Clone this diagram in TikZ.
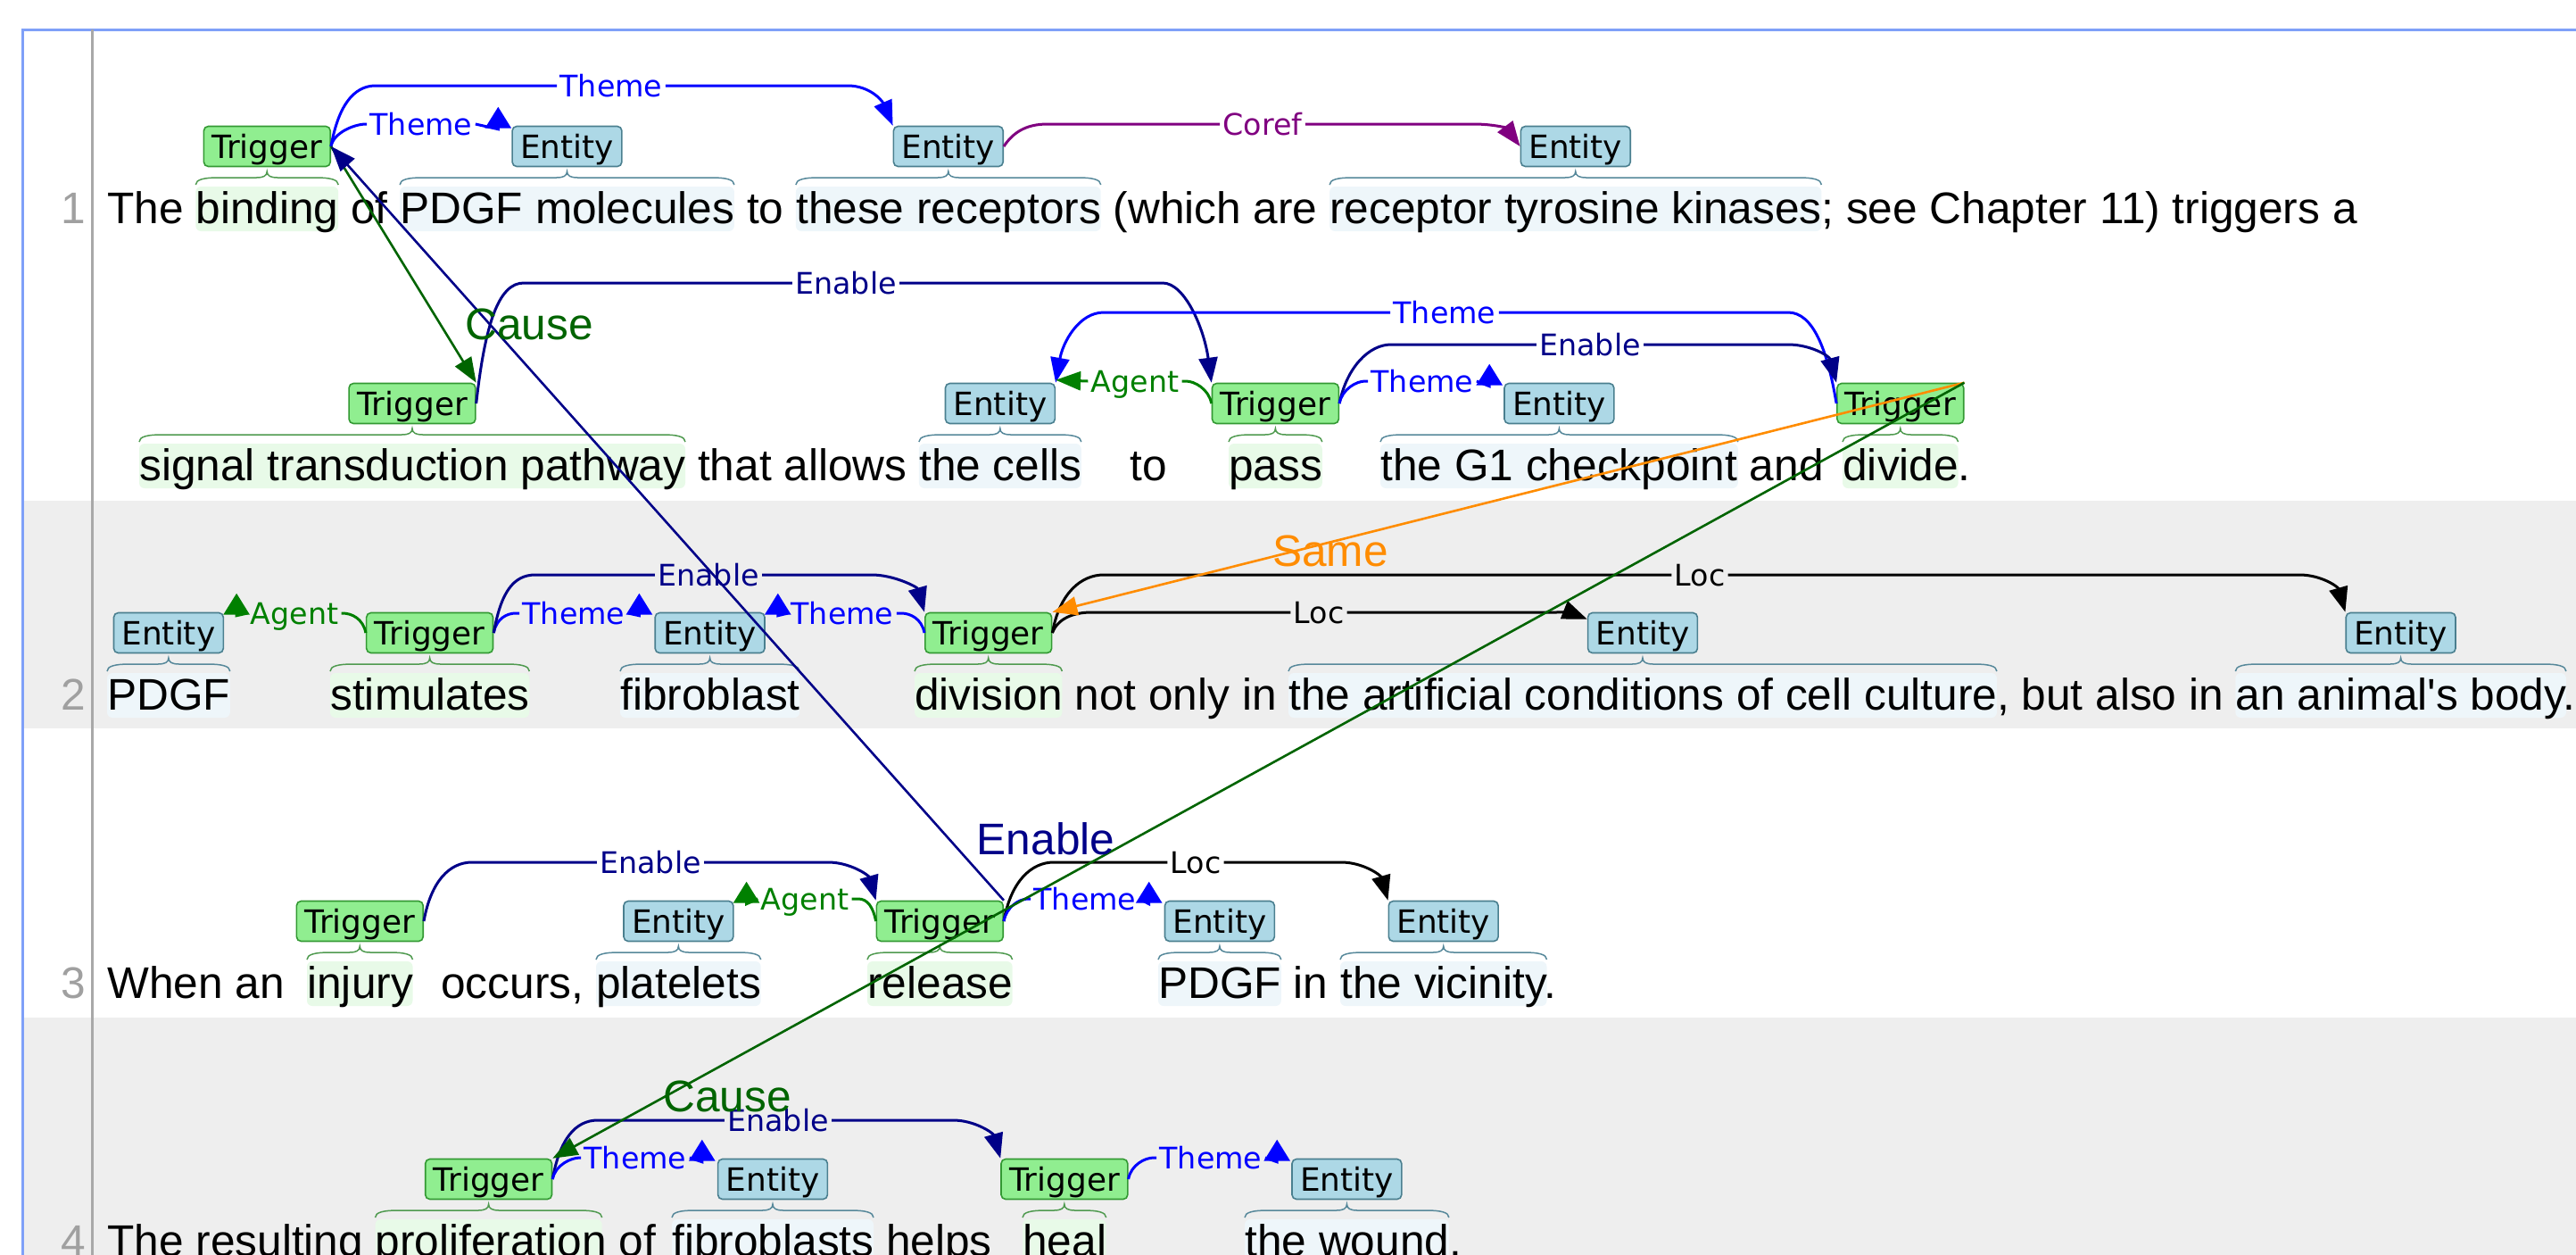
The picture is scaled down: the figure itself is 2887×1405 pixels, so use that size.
\documentclass[tikz,border=0pt]{standalone}
\usepackage{fontspec}
\setmainfont{Liberation Sans}[Ligatures=TeXOff]
\newfontfamily\dejavu{DejaVu Sans}
\usetikzlibrary{arrows.meta,calc}
\definecolor{bandc}{HTML}{EEEEEE}
\definecolor{framec}{HTML}{7FA0F8}
\definecolor{sepc}{HTML}{A8A8A8}
\definecolor{numc}{HTML}{A0A0A0}
\definecolor{hlT}{HTML}{E8FAE8}
\definecolor{hlE}{HTML}{EEF6FA}
\definecolor{brT}{HTML}{4F9A4F}
\definecolor{brE}{HTML}{56889A}
\definecolor{trigf}{HTML}{90EE90}
\definecolor{trigd}{HTML}{339933}
\definecolor{entf}{HTML}{ADD8E6}
\definecolor{entd}{HTML}{4A7F8F}
\definecolor{themec}{HTML}{0000FF}
\definecolor{enablec}{HTML}{000088}
\definecolor{agentc}{HTML}{008000}
\definecolor{causec}{HTML}{006400}
\definecolor{samec}{HTML}{FF8C00}
\definecolor{corefc}{HTML}{800080}
\definecolor{locc}{HTML}{000000}
\newcommand\myBody{\fontsize{24.8pt}{29pt}\selectfont}
\newcommand\myBox{\dejavu\fontsize{17.95pt}{20pt}\selectfont}
\newcommand\myArc{\dejavu\fontsize{16.65pt}{19pt}\selectfont}
\newcommand\spanmark[5]{%
  \pgfmathsetmacro\sxa{#1}\pgfmathsetmacro\sxb{#2}\pgfmathsetmacro\sbl{#3}%
  \pgfmathsetmacro\sxm{(\sxa+\sxb)/2}%
  \fill[#4, rounded corners=3pt] (\sxa,\sbl-41) rectangle (\sxb,\sbl+9);
  \draw[#5, line width=0.75pt] (\sxa,\sbl-43) .. controls (\sxa,\sbl-49) and (\sxa+10,\sbl-51) .. (\sxa+25,\sbl-51) -- (\sxm-12,\sbl-51) .. controls (\sxm-4,\sbl-51) and (\sxm,\sbl-53) .. (\sxm,\sbl-58) .. controls (\sxm,\sbl-53) and (\sxm+4,\sbl-51) .. (\sxm+12,\sbl-51) -- (\sxb-25,\sbl-51) .. controls (\sxb-10,\sbl-51) and (\sxb,\sbl-49) .. (\sxb,\sbl-43);
}
\tikzset{
  txt/.style={anchor=base west, inner sep=0pt, font=\myBody, text=black},
  lnum/.style={anchor=base east, inner sep=0pt, font=\myBody, text=numc},
  trig/.style={draw=trigd, fill=trigf, line width=0.8pt, rounded corners=2.5pt, font=\myBox, inner xsep=4.5pt, inner ysep=2.25pt, text height=15.5pt, text depth=2.5pt},
  ent/.style={draw=entd, fill=entf, line width=0.8pt, rounded corners=2.5pt, font=\myBox, inner xsep=4.5pt, inner ysep=2.25pt, text height=15.5pt, text depth=2.5pt},
  lab/.style={font=\myArc, inner sep=1.5pt, text height=12.1pt, text depth=0pt},
  biglab/.style={font=\myBody, inner sep=0pt, text height=17.8pt, text depth=0pt},
  arc/.style={line width=1.5pt},
  cross/.style={line width=1.3pt},
  arrowdown/.style={-{Triangle[length=14pt,width=10.5pt]}},
  arrowup/.style={-{Triangle[length=12pt,width=14.5pt]}}
}
\begin{document}
\begin{tikzpicture}[x=0.5pt,y=-0.5pt]
\useasboundingbox (0,0) rectangle (2887,1405);
\clip (0,0) rectangle (2887,1405);
% row bands and frame
\fill[bandc] (26,561) rectangle (2890,816);
\fill[bandc] (26,1140) rectangle (2890,1410);
\draw[framec,line width=1.5pt] (2890,33) -- (25,33) -- (25,1410);
\draw[sepc,line width=1.5pt] (103,33) -- (103,1410);
% spans
\spanmark{219.3}{379.2}{250}{hlT}{brT}
\spanmark{448.1}{822.9}{250}{hlE}{brE}
\spanmark{891.9}{1233.7}{250}{hlE}{brE}
\spanmark{1490.1}{2041.4}{250}{hlE}{brE}
\spanmark{156}{768}{538}{hlT}{brT}
\spanmark{1029.9}{1211.8}{538}{hlE}{brE}
\spanmark{1377}{1481.8}{538}{hlT}{brT}
\spanmark{1547}{1947.8}{538}{hlE}{brE}
\spanmark{2065}{2194.6}{538}{hlT}{brT}
\spanmark{120}{257.8}{795}{hlE}{brE}
\spanmark{370}{593.3}{795}{hlT}{brT}
\spanmark{695}{896.2}{795}{hlE}{brE}
\spanmark{1025}{1190.4}{795}{hlT}{brT}
\spanmark{1444}{2237.9}{795}{hlE}{brE}
\spanmark{2505.3}{2875.9}{795}{hlE}{brE}
\spanmark{344}{462.5}{1118}{hlT}{brT}
\spanmark{668}{852.7}{1118}{hlE}{brE}
\spanmark{972}{1134.6}{1118}{hlT}{brT}
\spanmark{1298}{1435.8}{1118}{hlE}{brE}
\spanmark{1502}{1733.5}{1118}{hlE}{brE}
\spanmark{420.5}{674.7}{1407}{hlT}{brT}
\spanmark{753}{979}{1407}{hlE}{brE}
\spanmark{1146}{1239.7}{1407}{hlT}{brT}
\spanmark{1395}{1623.9}{1407}{hlE}{brE}
% line numbers
\node[lnum] (n1) at (96,250) {1};
\node[lnum] (n2) at (96,795) {2};
\node[lnum] (n3) at (96,1118) {3};
\node[lnum] (n4) at (96,1407) {4};
% text
\node[txt] (w1) at (120,250) {The binding of PDGF molecules to these receptors (which are receptor tyrosine kinases; see Chapter 11) triggers a};
\node[txt] (w2) at (156,538) {signal transduction pathway that allows the cells};
\node[txt] (w3) at (1266,538) {to};
\node[txt] (w4) at (1377,538) {pass};
\node[txt] (w5) at (1547,538) {the G1 checkpoint and};
\node[txt] (w6) at (2065,538) {divide.};
\node[txt] (w7) at (120,795) {PDGF};
\node[txt] (w8) at (370,795) {stimulates};
\node[txt] (w9) at (695,795) {fibroblast};
\node[txt] (w10) at (1025,795) {division not only in the artificial conditions of cell culture, but also in an animal's body.};
\node[txt] (w11) at (120,1118) {When an};
\node[txt] (w12) at (344,1118) {injury};
\node[txt] (w13) at (494,1118) {occurs,};
\node[txt] (w14) at (668,1118) {platelets};
\node[txt] (w15) at (972,1118) {release};
\node[txt] (w16) at (1298,1118) {PDGF in the vicinity.};
\node[txt] (w17) at (120,1407) {The resulting proliferation of};
\node[txt] (w18) at (753,1407) {fibroblasts helps};
\node[txt] (w19) at (1146,1407) {heal};
\node[txt] (w20) at (1395,1407) {the wound.};
% boxes
\node[trig] (t1) at (299.3,164) {Trigger};
\node[ent] (e1) at (635.5,164) {Entity};
\node[ent] (e2) at (1062.8,164) {Entity};
\node[ent] (e3) at (1765.8,164) {Entity};
\node[trig] (t2) at (462,452) {Trigger};
\node[ent] (e4) at (1120.9,452) {Entity};
\node[trig] (t3) at (1429.4,452) {Trigger};
\node[ent] (e5) at (1747.4,452) {Entity};
\node[trig] (t4) at (2129.8,452) {Trigger};
\node[ent] (e6) at (188.9,709) {Entity};
\node[trig] (t5) at (481.6,709) {Trigger};
\node[ent] (e7) at (795.6,709) {Entity};
\node[trig] (t6) at (1107.7,709) {Trigger};
\node[ent] (e8) at (1841,709) {Entity};
\node[ent] (e9) at (2690.6,709) {Entity};
\node[trig] (t7) at (403.3,1032) {Trigger};
\node[ent] (e10) at (760.4,1032) {Entity};
\node[trig] (t8) at (1053.3,1032) {Trigger};
\node[ent] (e11) at (1366.9,1032) {Entity};
\node[ent] (e12) at (1617.7,1032) {Entity};
\node[trig] (t9) at (547.6,1321) {Trigger};
\node[ent] (e13) at (866,1321) {Entity};
\node[trig] (t10) at (1192.9,1321) {Trigger};
\node[ent] (e14) at (1509.4,1321) {Entity};
% arc labels
\node[lab,text=themec] (L1) at (685,96) {Theme};
\node[lab,text=themec] (L2) at (472,139) {Theme};
\node[lab,text=corefc] (L3) at (1415,139) {Coref};
\node[lab,text=enablec] (L6) at (948,317) {Enable};
\node[lab,text=themec] (L7) at (1619,350) {Theme};
\node[lab,text=enablec] (L8) at (1782,386) {Enable};
\node[lab,text=themec] (L9) at (1594,427) {Theme};
\node[lab,text=agentc] (L10) at (1272,427) {Agent};
\node[lab,text=agentc] (L13) at (330,687) {Agent};
\node[lab,text=themec] (L14) at (643,687) {Theme};
\node[lab,text=enablec] (L15) at (794,644) {Enable};
\node[lab,text=themec] (L16) at (944,687) {Theme};
\node[lab,text=locc] (L17) at (1478,686) {Loc};
\node[lab,text=locc] (L18) at (1905,644) {Loc};
\node[lab,text=enablec] (L19) at (729,966) {Enable};
\node[lab,text=agentc] (L20) at (902,1007) {Agent};
\node[lab,text=locc] (L21) at (1340,966) {Loc};
\node[lab,text=themec] (L22) at (1216,1007) {Theme};
\node[lab,text=enablec] (L23) at (872,1255) {Enable};
\node[lab,text=themec] (L24) at (712,1297) {Theme};
\node[lab,text=themec] (L25) at (1357,1297) {Theme};
% sentence 1 arcs
\draw[themec,arc] (t1.east) .. controls +(8,-45) and +(-25,0) .. (421,96) -- (L1.west);
\draw[themec,arc,arrowdown] (L1.east) -- (950,96) .. controls +(25,0) and +(-12,-28) .. (e2.north west);
\draw[themec,arc] (t1.east) .. controls +(3,-16) and +(-12,0) .. (410,139) -- (L2.west);
\draw[themec,arc,arrowup] (L2.east) -- ($(e1.north west)+(-15,4)$) -- ++(0,-25);
\draw[corefc,arc] (e2.east) .. controls +(10,-15) and +(-25,0) .. (1174,139) -- (L3.west);
\draw[corefc,arc,arrowdown] (L3.east) -- (1651,139) .. controls +(25,0) and +(-15,-20) .. (e3.west);
\draw[enablec,arc] (t2.east) .. controls +(10,-90) and +(-28,0) .. (587,317) -- (L6.west);
\draw[enablec,arc,arrowdown] (L6.east) -- (1303,317) .. controls +(25,0) and +(-8,-60) .. (t3.north west);
\draw[themec,arc] (t4.west) .. controls +(-10,-60) and +(28,0) .. (2004,350) -- (L7.east);
\draw[themec,arc,arrowdown] (L7.west) -- (1237,350) .. controls +(-28,0) and +(8,-45) .. (e4.north east);
\draw[enablec,arc] (t3.east) .. controls +(8,-40) and +(-25,0) .. (1559,386) -- (L8.west);
\draw[enablec,arc,arrowdown] (L8.east) -- (2004,386) .. controls +(25,0) and +(-8,-30) .. (t4.north west);
\draw[themec,arc] (t3.east) .. controls +(3,-16) and +(-10,0) .. (1530,427) -- (L9.west);
\draw[themec,arc,arrowup] (L9.east) -- ($(e5.north west)+(-16,4)$) -- ++(0,-25);
\draw[agentc,arc] (t3.west) .. controls +(-3,-16) and +(10,0) .. (1329,427) -- (L10.east);
\draw[agentc,arc,arrowdown] (L10.west) -- ($(e4.north east)+(0,-3)$);
% sentence 2 arcs
\draw[agentc,arc] (t5.west) .. controls +(-3,-16) and +(10,0) .. (384,687) -- (L13.east);
\draw[agentc,arc,arrowup] (L13.west) -- ($(e6.north east)+(14,4)$) -- ++(0,-25);
\draw[themec,arc] (t5.east) .. controls +(3,-16) and +(-10,0) .. (578,687) -- (L14.west);
\draw[themec,arc,arrowup] (L14.east) -- ($(e7.north west)+(-17,4)$) -- ++(0,-25);
\draw[enablec,arc] (t5.east) .. controls +(8,-45) and +(-25,0) .. (600,644) -- (L15.west);
\draw[enablec,arc,arrowdown] (L15.east) -- (977,644) .. controls +(25,0) and +(-8,-28) .. (t6.north west);
\draw[themec,arc] (t6.west) .. controls +(-3,-16) and +(10,0) .. (1010,687) -- (L16.east);
\draw[themec,arc,arrowup] (L16.west) -- ($(e7.north east)+(14,4)$) -- ++(0,-25);
\draw[locc,arc] (t6.east) .. controls +(6,-16) and +(-20,0) .. (1223,686) -- (L17.west);
\draw[locc,arc,arrowdown] (L17.east) -- (1738,686) .. controls +(20,0) and +(-20,-8) .. ($(e8.north west)+(0,8)$);
\draw[locc,arc] (t6.east) .. controls +(8,-45) and +(-25,0) .. (1237,644) -- (L18.west);
\draw[locc,arc,arrowdown] (L18.east) -- (2577,644) .. controls +(25,0) and +(-8,-28) .. (e9.north west);
% sentence 3 arcs
\draw[enablec,arc] (t7.east) .. controls +(8,-45) and +(-25,0) .. (529,966) -- (L19.west);
\draw[enablec,arc,arrowdown] (L19.east) -- (928,966) .. controls +(25,0) and +(-8,-28) .. (t8.north west);
\draw[agentc,arc] (t8.west) .. controls +(-3,-16) and +(10,0) .. (962,1007) -- (L20.east);
\draw[agentc,arc,arrowup] (L20.west) -- ($(e10.north east)+(14,4)$) -- ++(0,-25);
\draw[locc,arc] (t8.east) .. controls +(8,-45) and +(-25,0) .. (1181,966) -- (L21.west);
\draw[locc,arc,arrowdown] (L21.east) -- (1503,966) .. controls +(25,0) and +(-8,-28) .. (e12.north west);
\draw[themec,arc] (t8.east) .. controls +(3,-16) and +(-10,0) .. (1152,1007) -- (L22.west);
\draw[themec,arc,arrowup] (L22.east) -- ($(e11.north west)+(-17,4)$) -- ++(0,-25);
% sentence 4 arcs
\draw[enablec,arc] (t9.east) .. controls +(8,-45) and +(-25,0) .. (670,1255) -- (L23.west);
\draw[enablec,arc,arrowdown] (L23.east) -- (1068,1255) .. controls +(25,0) and +(-8,-28) .. (t10.north west);
\draw[themec,arc] (t9.east) .. controls +(3,-16) and +(-10,0) .. (650,1297) -- (L24.west);
\draw[themec,arc,arrowup] (L24.east) -- ($(e13.north west)+(-17,4)$) -- ++(0,-25);
\draw[themec,arc] (t10.east) .. controls +(3,-16) and +(-10,0) .. (1293,1297) -- (L25.west);
\draw[themec,arc,arrowup] (L25.east) -- ($(e14.north west)+(-16,4)$) -- ++(0,-25);
% cross-sentence relations
\draw[causec,cross,arrowdown] (t1.east) -- (t2.north east);
\draw[enablec,cross,arrowdown] (t8.north east) -- (t1.east);
\draw[samec,cross,arrowdown] (t4.north east) -- (t6.north east);
\draw[causec,cross,arrowdown] (t4.north east) -- (t9.north east);
\node[biglab,text=causec] (B1) at (593,363) {Cause};
\node[biglab,text=enablec] (B2) at (1172,940) {Enable};
\node[biglab,text=samec] (B3) at (1491,617) {Same};
\node[biglab,text=causec] (B4) at (815,1228) {Cause};
\end{tikzpicture}
\end{document}
